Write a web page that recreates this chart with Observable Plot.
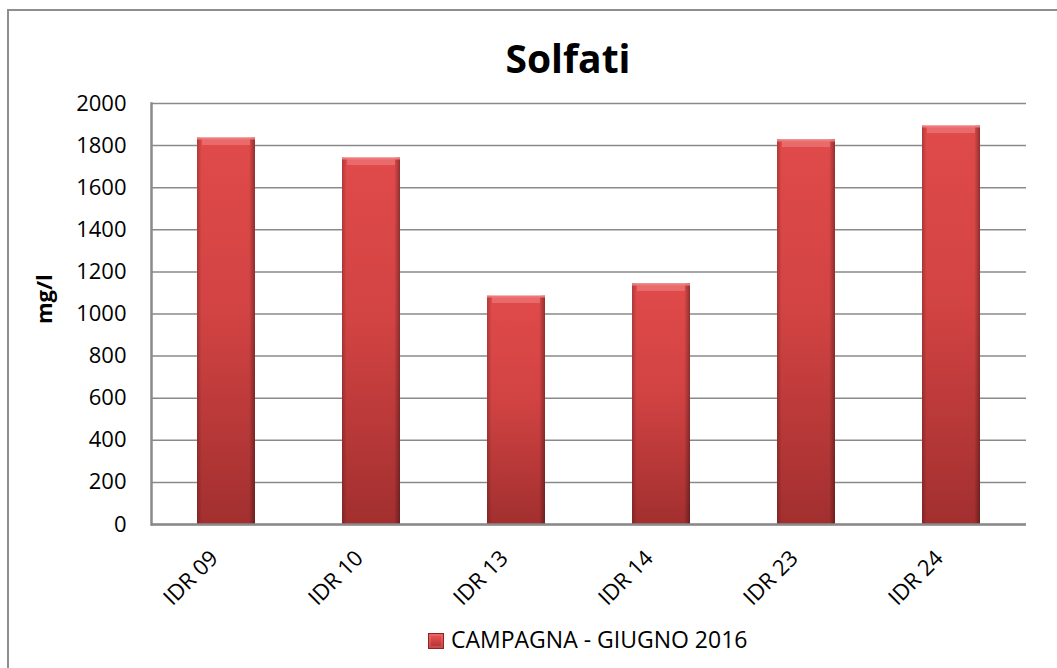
<!DOCTYPE html>
<html>
<head>
<meta charset="utf-8">
<script src="https://cdn.jsdelivr.net/npm/d3@7"></script>
<script src="https://cdn.jsdelivr.net/npm/@observablehq/plot@0.6"></script>
<style>
  html, body { margin: 0; padding: 0; background: #fff; }
  #chart { position: relative; width: 1057px; height: 668px; overflow: hidden; font-family: "Open Sans", sans-serif; color: #000; }
  #border { position: absolute; left: 7px; top: 9px; width: 1200px; height: 800px; border: 2px solid #8e8e8e; box-sizing: border-box; }
  #plot { position: absolute; left: 0; top: 0; }
  #title { position: absolute; left: 418px; width: 300px; top: 38px; text-align: center; font-weight: bold; font-size: 39px; line-height: 39px; }
  #legend-swatch { position: absolute; left: 428px; top: 633px; width: 16px; height: 16px; box-sizing: border-box;
    background: linear-gradient(to bottom, #e65a5a 0%, #d64444 45%, #a83232 100%); border: 1px solid #8a2626; box-shadow: inset 0 0 0 2px rgba(255,120,120,0.35); }
  #legend-text { position: absolute; left: 451px; top: 628px; font-size: 23px; line-height: 23px; white-space: nowrap; }
</style>
</head>
<body>
<div id="chart">
  <div id="border"></div>
  <div id="plot"></div>
  <div id="title">Solfati</div>
  <div id="legend-swatch"></div>
  <div id="legend-text">CAMPAGNA - GIUGNO 2016</div>
</div>
<script>
const stations = ["IDR 09", "IDR 10", "IDR 13", "IDR 14", "IDR 23", "IDR 24"];
const solfati = [1836, 1741, 1085, 1143, 1827, 1893];
const yTicks = [0, 200, 400, 600, 800, 1000, 1200, 1400, 1600, 1800, 2000];
const yLabel = "mg/l";

const data = stations.map((s, i) => ({station: s, value: solfati[i]}));

const plot = Plot.plot({
  width: 1057,
  height: 668,
  marginLeft: 151,
  marginRight: 31,
  marginTop: 103,
  marginBottom: 144,
  style: {fontFamily: "Open Sans, sans-serif", fontSize: "22px", color: "#000", background: "transparent", overflow: "visible"},
  x: {domain: stations, paddingInner: 0.6, paddingOuter: 0.3, label: null},
  y: {domain: [0, 2000], label: null},
  marks: [
    Plot.ruleY(yTicks, {stroke: "#8a8a8a", strokeWidth: 1.5}),
    Plot.barY(data, {x: "station", y: "value", fill: "url(#barGrad)", style: {filter: "drop-shadow(2px 3px 3px rgba(0,0,0,0.35))"}}),
    Plot.barY(data, {x: "station", y: "value", fill: "url(#edgeGrad)"}),
    Plot.tickY(data, {x: "station", y: "value", stroke: "#e86a6a", strokeWidth: 7, dy: 3.5, insetLeft: 5, insetRight: 5}),
    Plot.tickY(data, {x: "station", y: "value", stroke: "#f07878", strokeWidth: 1.5, dy: 0.75}),
    Plot.ruleY([0], {stroke: "#8a8a8a", strokeWidth: 2.5}),
    Plot.frame({anchor: "left", stroke: "#8a8a8a", strokeWidth: 2.5}),
    Plot.axisY({ticks: yTicks, tickSize: 0, tickPadding: 25, fontSize: 22, tickFormat: d => String(d), label: null}),
    Plot.axisX({tickSize: 0, tickRotate: -45, tickPadding: 30, fontSize: 22, label: null, dx: -12}),
    Plot.text([yLabel], {frameAnchor: "left", text: d => d, rotate: -90, dx: -107, dy: 10, fontWeight: "bold", fontSize: 22})
  ]
});

const svg = d3.select(plot);
const defs = svg.insert("defs", ":first-child");
const g1 = defs.append("linearGradient").attr("id", "barGrad").attr("x1", 0).attr("y1", 0).attr("x2", 0).attr("y2", 1);
g1.append("stop").attr("offset", "0%").attr("stop-color", "#e04a4a");
g1.append("stop").attr("offset", "45%").attr("stop-color", "#d24343");
g1.append("stop").attr("offset", "100%").attr("stop-color", "#a22f2f");
const g2 = defs.append("linearGradient").attr("id", "edgeGrad").attr("x1", 0).attr("y1", 0).attr("x2", 1).attr("y2", 0);
g2.append("stop").attr("offset", "0%").attr("stop-color", "#000").attr("stop-opacity", 0.22);
g2.append("stop").attr("offset", "8%").attr("stop-color", "#000").attr("stop-opacity", 0);
g2.append("stop").attr("offset", "90%").attr("stop-color", "#000").attr("stop-opacity", 0);
g2.append("stop").attr("offset", "100%").attr("stop-color", "#000").attr("stop-opacity", 0.35);

document.getElementById("plot").append(plot);
</script>
</body>
</html>
